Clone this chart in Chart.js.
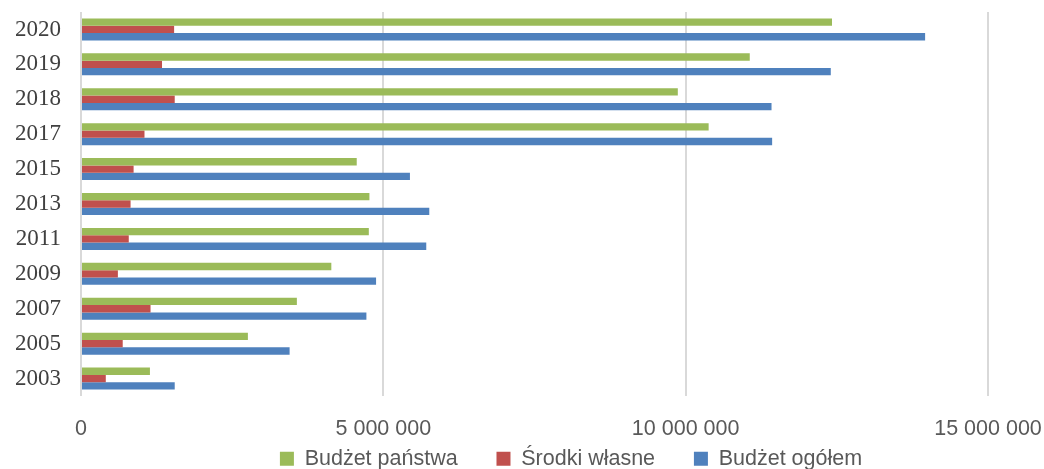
<!DOCTYPE html>
<html>
<head>
<meta charset="utf-8">
<script src="https://cdn.jsdelivr.net/npm/chart.js@4"></script>
<style>
  html, body { margin: 0; padding: 0; background: #fff; }
  #wrap { width: 1044px; height: 469px; }
</style>
</head>
<body>
<div id="wrap"><canvas id="myChart"></canvas></div>
<script>
// lata (od góry do dołu)
const years = ["2020", "2019", "2018", "2017", "2015", "2013", "2011", "2009", "2007", "2005", "2003"];
// wartości
const budzetPanstwa = [12420000, 11060000, 9870000, 10380000, 4560000, 4770000, 4760000, 4140000, 3570000, 2760000, 1140000];
const srodkiWlasne = [1540000, 1340000, 1550000, 1050000, 870000, 820000, 790000, 610000, 1150000, 690000, 410000];
const budzetOgolem = [13960000, 12400000, 11420000, 11430000, 5440000, 5760000, 5710000, 4880000, 4720000, 3450000, 1550000];
const xTicks = [0, 5000000, 10000000, 15000000];

const data = {
  labels: years,
  datasets: [
    { label: "Budżet państwa", data: budzetPanstwa, backgroundColor: "#9BBB59" },
    { label: "Środki własne", data: srodkiWlasne, backgroundColor: "#C0504D" },
    { label: "Budżet ogółem", data: budzetOgolem, backgroundColor: "#4F81BD" },
  ],
};

// legenda: stała wysokość + przesunięcie w prawo (jak w oryginale)
const legendFix = {
  id: "legendFix",
  afterInit(chart) {
    const lg = chart.legend;
    const fit = lg.fit;
    lg.fit = function () {
      fit.call(this);
      this.height = 24;
    };
  },
  afterLayout(chart) {
    if (chart.legend) chart.legend.left += 86;
  },
};

const config = {
  type: "bar",
  data: data,
  options: {
    indexAxis: "y",
    responsive: true,
    maintainAspectRatio: false,
    animation: false,
    layout: { padding: { left: 12, top: 12, right: 0, bottom: 0 } },
    datasets: {
      bar: { categoryPercentage: 0.63, barPercentage: 1.0 },
    },
    plugins: {
      legend: {
        position: "bottom",
        labels: {
          boxWidth: 14,
          boxHeight: 14,
          padding: 3,
          color: "#595959",
          font: { family: "Liberation Sans", size: 21.5 },
          generateLabels(chart) {
            const items = Chart.defaults.plugins.legend.labels.generateLabels(chart);
            items.forEach((it, i) => {
              if (i < items.length - 1) it.text += "      "; // odstęp między pozycjami
            });
            return items;
          },
        },
      },
      tooltip: { enabled: false },
    },
    scales: {
      x: {
        min: 0,
        max: 15000000,
        afterBuildTicks(axis) {
          axis.ticks = xTicks.map((v) => ({ value: v }));
        },
        afterFit(axis) {
          axis.paddingLeft = 0;
          axis.paddingRight = 56;
          axis.height = 49;
        },
        grid: { color: "#d9d9d9", lineWidth: 2, drawTicks: false },
        border: { display: false },
        ticks: {
          padding: 20,
          color: "#595959",
          font: { family: "Liberation Sans", size: 21.5 },
          callback: (v) => v.toString().replace(/\B(?=(\d{3})+(?!\d))/g, " "),
        },
      },
      y: {
        afterFit(axis) {
          axis.paddingTop = 0;
          axis.paddingBottom = 0;
          axis.width = 69;
        },
        grid: { display: false, drawTicks: false },
        border: { display: false },
        ticks: {
          autoSkip: false,
          padding: 20,
          color: "#404040",
          font: { family: "Liberation Serif", size: 23 },
        },
      },
    },
  },
  plugins: [legendFix],
};

let context = document.getElementById("myChart").getContext("2d");
let chart = new Chart(context, config);
</script>
</body>
</html>
